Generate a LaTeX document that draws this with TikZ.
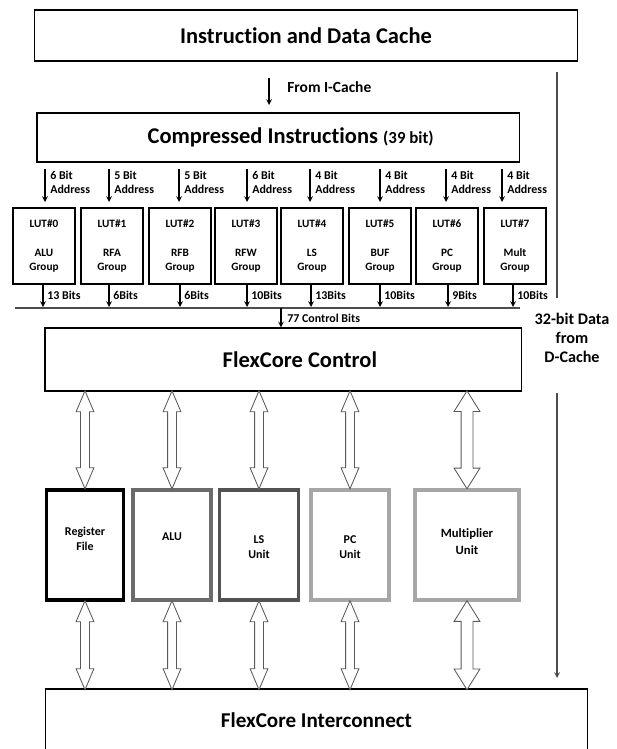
\documentclass[tikz,border=0pt]{standalone}
\usepackage{fontspec}
\setmainfont{Carlito}[Ligatures=NoCommon]
\usetikzlibrary{shapes.arrows}

\begin{document}
\begin{tikzpicture}[x=0.025cm,y=-0.025cm,
    bigbox/.style={draw, line width=0.8pt, inner sep=0pt, font=\bfseries\fontsize{16}{18}\selectfont},
    lutbox/.style={draw, line width=0.8pt, minimum width=1.55cm, minimum height=1.9cm, align=center, inner sep=0pt, font=\bfseries\fontsize{8}{9.5}\selectfont},
    small/.style={anchor=west, align=left, inner sep=0pt, font=\bfseries\fontsize{8.5}{10}\selectfont},
    unitbox/.style={draw, minimum height=2.75cm, line width=2.8pt, inner sep=0pt},
    utext/.style={align=center, inner sep=0pt, font=\bfseries\fontsize{8.5}{11}\selectfont},
    dbl/.style={double arrow, rotate=90, draw=black!65, line width=0.6pt, fill=white, inner xsep=0pt, inner ysep=0.1cm,
      minimum width=0pt, double arrow head extend=0.1125cm, double arrow tip angle=46},
    dblwide/.style={inner ysep=0.1375cm, double arrow head extend=0.175cm, double arrow tip angle=64}]
      \clip (0,0) rectangle (617,749);

      % top part
      \node[bigbox, minimum width=13.55cm, minimum height=1.275cm] (cache) at (306,35.5) {Instruction and Data Cache};
      \node[bigbox, minimum width=12.05cm, minimum height=1.225cm] (comp) at (278,137.5)
        {\hspace{18pt}Compressed Instructions {\fontsize{12}{14}\selectfont(39 bit)}};
      \coordinate (ic1) at (269,78);
      \coordinate (ic2) at (269,105);
      \draw[thick, -stealth] (ic1) -- (ic2);
      \node[small, font=\bfseries\fontsize{11}{13}\selectfont] (icl) at (287,87) {From I-Cache};

      % LUTs
      \foreach \n/\cx/\ax/\ox/\ab/\grp/\ob in {0/44/45/43/6/ALU/13 Bits, 1/112/109/109/5/RFA/6Bits,
          2/180/179/180/5/RFB/6Bits, 3/246/247/247/6/RFW/10Bits, 4/312/310/311/4/LS/13Bits,
          5/380/380/380/4/BUF/10Bits, 6/447/446/448/4/PC/9Bits, 7/515/502/513/4/Mult/10Bits}{
        \node[lutbox] (lut\n) at (\cx,246) {LUT\#\n\\[11pt]\grp\\Group};
        \coordinate (a\n) at (\ax,169);
        \draw[thick, -stealth] (a\n) -- (\ax,202);
        \node[small] (al\n) at (\ax+5,182) {\ab{} Bit\\Address};
        \coordinate (o\n) at (\ox,307);
        \draw[thick, -stealth] (lut\n.south -| o\n) -- (o\n);
        \node[small] (ol\n) at (\ox+4,295) {\ob};
      }
      \coordinate (busl) at (15,308);
      \coordinate (busr) at (520,308);
      \draw[thick, black!70] (busl) -- (busr);

      \node[bigbox, minimum width=11.9cm, minimum height=1.575cm] (ctl) at (283,359.5) {\hspace{24pt}FlexCore Control};
      \coordinate (cb) at (281,308);
      \draw[thick, -stealth] (cb) -- (cb |- ctl.north);
      \node[small] (cbl) at (287,318) {77 Control Bits};

      % units
      \node[unitbox, draw=black, minimum width=1.925cm] (rf) at (85,545) {};
      \node[unitbox, draw=black!58, minimum width=1.95cm] (alu) at (172,545) {};
      \node[unitbox, draw=black!68, minimum width=1.975cm] (ls) at (259,545) {};
      \node[unitbox, draw=black!35, minimum width=1.95cm] (pc) at (350,545) {};
      \node[unitbox, draw=black!35, minimum width=2.6cm] (mul) at (467,545) {};
      \node[utext] at (85,539) {Register\\File};
      \node[utext] at (172,537) {ALU};
      \node[utext] at (259,547) {LS\\Unit};
      \node[utext] at (350,547) {PC\\Unit};
      \node[utext, font=\bfseries\fontsize{9}{12}\selectfont] at (467,542) {Multiplier\\Unit};

      \node[bigbox, font=\bfseries\fontsize{15}{18}\selectfont, minimum width=13.525cm, minimum height=1.575cm] (net) at (316.5,720.5) {FlexCore Interconnect\hspace{13pt}};

      % double arrows
      \foreach \u in {rf,alu,ls,pc}{
        \path (ctl.south -| \u.north) -- (\u.north) node[dbl, midway, minimum height=2.45cm] {};
        \path (\u.south) -- (net.north -| \u.south) node[dbl, midway, minimum height=2.225cm] {};
      }
      \path (ctl.south -| mul.north) -- (mul.north) node[dbl, dblwide, midway, minimum height=2.45cm] {};
      \path (mul.south) -- (net.north -| mul.south) node[dbl, dblwide, midway, minimum height=2.225cm] {};

      % data from D-Cache
      \node[align=center, inner sep=0pt, font=\bfseries\fontsize{11.5}{13.5}\selectfont] (dc) at (572,338) {32-bit Data\\from\\D-Cache};
      \coordinate (d0) at (557,72);
      \coordinate (d1) at (557,298);
      \coordinate (d2) at (557,393);
      \coordinate (d3) at (557,678);
      \draw[thick, black!70] (d0) -- (d1);
      \draw[thick, black!70, -stealth] (d2) -- (d3);
\end{tikzpicture}
\end{document}
